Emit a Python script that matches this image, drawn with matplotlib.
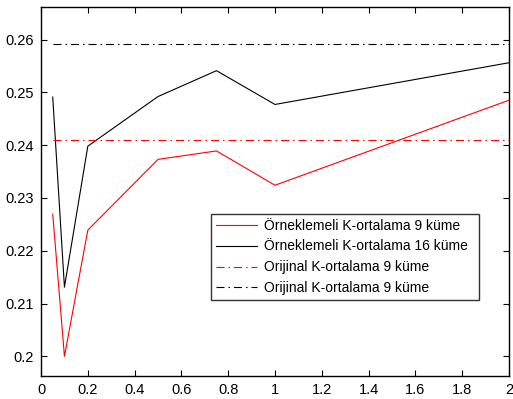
import matplotlib
matplotlib.use("Agg")
import matplotlib.pyplot as plt

plt.rcParams['font.family'] = ['Liberation Sans', 'DejaVu Sans']

x = [0.05, 0.1, 0.2, 0.5, 0.75, 1, 2]
ornek_9 = [0.2269, 0.2000, 0.2239, 0.2373, 0.2389, 0.2324, 0.2485]
ornek_16 = [0.2491, 0.2131, 0.2398, 0.2492, 0.2541, 0.2477, 0.2556]
orijinal_9 = 0.2409
orijinal_16 = 0.2592

labels = ['Örneklemeli K-ortalama 9 küme',
          'Örneklemeli K-ortalama 16 küme',
          'Orijinal K-ortalama 9 küme',
          'Orijinal K-ortalama 9 küme']

fig = plt.figure(figsize=(5.13, 3.99), dpi=100)
ax = fig.add_axes([0.080, 0.058, 0.912, 0.925])

dashdot = (7.2, 3.6, 1.35, 3.6)
ax.plot(x, ornek_9, color='red', lw=0.8, label=labels[0])
ax.plot(x, ornek_16, color='black', lw=0.8, label=labels[1])
ax.plot(x, [orijinal_9] * len(x), color='red', lw=0.8, dashes=dashdot, label=labels[2])
ax.plot(x, [orijinal_16] * len(x), color='black', lw=0.8, dashes=dashdot, label=labels[3])

ax.set_xlim(0, 2)
ax.set_ylim(0.1963, 0.2662)
ax.set_xticks([0, 0.2, 0.4, 0.6, 0.8, 1, 1.2, 1.4, 1.6, 1.8, 2])
ax.set_xticklabels(['0', '0.2', '0.4', '0.6', '0.8', '1', '1.2', '1.4', '1.6', '1.8', '2'])
ax.set_yticks([0.2, 0.21, 0.22, 0.23, 0.24, 0.25, 0.26])
ax.set_yticklabels(['0.2', '0.21', '0.22', '0.23', '0.24', '0.25', '0.26'])
ax.tick_params(direction='in', top=True, right=True, length=4, width=0.8, labelsize=10.5, pad=5)
for s in ax.spines.values():
    s.set_linewidth(1.0)

leg = ax.legend(loc='lower left', bbox_to_anchor=(0.363, 0.205, 0.573, 0.233), mode='expand',
                fontsize=10, frameon=True, fancybox=False, borderaxespad=0,
                handlelength=3.0, handletextpad=0.45, labelspacing=0.5, borderpad=0.35)
leg.get_frame().set_edgecolor('black')
leg.get_frame().set_linewidth(1.0)

fig.savefig('out.png', dpi=100)
